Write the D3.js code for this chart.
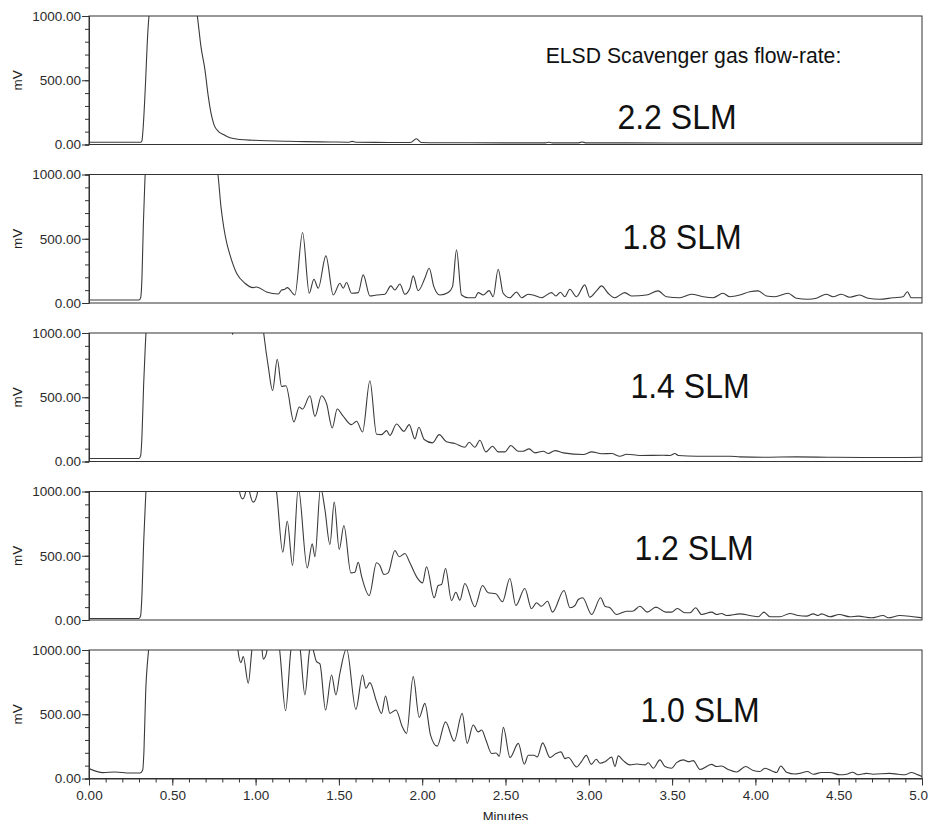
<!DOCTYPE html>
<html>
<head>
<meta charset="utf-8">
<script src="https://cdn.jsdelivr.net/npm/d3@7/dist/d3.min.js"></script>
<style>
  body { margin: 0; background: #fff; }
  svg { display: block; font-family: "Liberation Sans", Arial, sans-serif; }
</style>
</head>
<body>
<svg id="chart" width="928" height="820"></svg>
<script>
// ELSD chromatograms at five scavenger gas flow-rates: [minutes, mV]
const flowRates = ["2.2 SLM", "1.8 SLM", "1.4 SLM", "1.2 SLM", "1.0 SLM"];

const trace22 = [[0,18],[0.312,18],[0.318,30],[0.326,150],[0.34,500],[0.35,800],[0.36,1000],[0.37,1100],
  [0.64,1100],[0.652,982],[0.672,762],[0.696,581],[0.716,374],[0.732,246],[0.75,155],[0.776,103],[0.806,78],
  [0.846,52],[0.906,39],[0.984,33],[1.066,29],[1.2,25],[1.3,22],[1.45,20],[1.56,18],[1.58,24],[1.6,18],
  [1.8,16],[1.93,15],[1.965,45],[1.995,16],[2.1,14],[2.5,13],[2.74,13],[2.76,18],[2.78,13],[2.94,13],
  [2.96,20],[2.98,13],[3.5,12],[4.0,12],[4.5,12],[5,12]];

const trace18 = [[0,23],[0.30,23],[0.31,40],[0.318,200],[0.326,600],[0.334,900],[0.342,1100],
  [0.76,1100],[0.774,1000],[0.792,750],[0.81,580],[0.828,460],[0.846,375],[0.886,232],[0.936,154],[0.986,120],
  [1.006,125],[1.066,86],[1.136,70],[1.156,101],[1.176,107],[1.19,120],[1.236,62],[1.282,549],[1.322,76],
  [1.35,185],[1.376,115],[1.422,367],[1.466,62],[1.506,154],[1.526,115],[1.546,159],[1.576,76],[1.616,81],
  [1.646,219],[1.686,55],[1.726,62],[1.776,68],[1.812,133],[1.836,101],[1.866,148],[1.896,68],[1.926,115],
  [1.946,211],[1.976,96],[2.016,193],[2.042,271],[2.07,127],[2.106,62],[2.156,81],[2.182,127],[2.206,414],
  [2.236,62],[2.276,41],[2.316,41],[2.336,81],[2.366,62],[2.402,96],[2.426,49],[2.456,263],[2.486,76],
  [2.526,41],[2.566,86],[2.596,41],[2.636,68],[2.666,62],[2.716,41],[2.776,81],[2.802,55],[2.83,84],
  [2.856,49],[2.886,107],[2.926,49],[2.976,141],[3.006,45],[3.046,94],[3.076,133],[3.116,76],[3.156,41],
  [3.216,81],[3.256,55],[3.346,62],[3.416,94],[3.466,49],[3.546,41],[3.616,68],[3.686,49],[3.746,41],
  [3.806,76],[3.846,49],[3.906,62],[3.966,88],[4.016,94],[4.066,55],[4.116,49],[4.196,76],[4.246,37],
  [4.316,29],[4.366,37],[4.426,68],[4.466,49],[4.516,68],[4.566,45],[4.626,62],[4.676,37],[4.746,29],
  [4.826,41],[4.886,49],[4.912,88],[4.936,41],[5.0,41]];

const trace14 = [[0,23],[0.30,23],[0.31,45],[0.318,200],[0.328,600],[0.338,900],[0.348,1100],
  [0.85,1100],[0.862,988],[0.874,1100],[1.04,1100],[1.05,984],[1.076,739],[1.102,553],[1.13,796],
  [1.156,584],[1.182,589],[1.23,308],[1.262,424],[1.282,408],[1.326,512],[1.356,351],[1.396,512],
  [1.426,450],[1.46,261],[1.49,408],[1.522,359],[1.576,287],[1.606,313],[1.642,230],[1.686,628],
  [1.726,212],[1.756,209],[1.786,240],[1.806,202],[1.846,292],[1.89,235],[1.922,287],[1.956,176],
  [1.98,266],[2.012,171],[2.062,145],[2.102,209],[2.146,153],[2.196,140],[2.256,111],[2.282,150],
  [2.316,111],[2.346,165],[2.382,75],[2.422,119],[2.456,75],[2.496,75],[2.532,124],[2.576,80],
  [2.606,80],[2.642,98],[2.676,67],[2.727,80],[2.757,62],[2.797,85],[2.847,67],[2.967,54],[3.017,75],
  [3.077,60],[3.137,62],[3.187,41],[3.227,57],[3.307,47],[3.447,49],[3.487,47],[3.517,62],[3.537,47],
  [3.647,41],[3.847,41],[3.907,36],[4.047,33],[4.247,36],[4.447,33],[4.647,31],[4.847,31],[5.0,33]];

const trace12 = [[0,12],[0.30,12],[0.31,35],[0.318,200],[0.328,600],[0.338,900],[0.348,1100],
  [0.895,1100],[0.906,984],[0.922,943],[0.938,984],[0.945,1060],[0.955,1060],[0.966,984],[0.986,917],
  [1.01,984],[1.02,1100],[1.115,1100],[1.127,984],[1.163,528],[1.19,769],[1.222,424],[1.256,1030],
  [1.31,406],[1.34,593],[1.356,492],[1.39,1030],[1.416,860],[1.446,588],[1.472,917],[1.502,549],
  [1.53,735],[1.572,367],[1.596,372],[1.616,450],[1.636,341],[1.682,191],[1.726,445],[1.746,424],
  [1.77,354],[1.796,367],[1.836,541],[1.862,492],[1.896,518],[1.926,445],[1.97,328],[2.002,289],
  [2.026,414],[2.072,173],[2.096,268],[2.116,276],[2.14,401],[2.176,152],[2.202,216],[2.226,154],
  [2.256,284],[2.316,103],[2.362,268],[2.396,212],[2.442,204],[2.482,142],[2.526,323],[2.562,113],
  [2.616,245],[2.656,87],[2.686,134],[2.716,107],[2.752,146],[2.782,61],[2.851,230],[2.887,95],
  [2.917,113],[2.937,160],[2.963,173],[3.017,43],[3.071,173],[3.097,107],[3.127,95],[3.167,43],
  [3.227,68],[3.263,68],[3.307,107],[3.351,61],[3.403,100],[3.463,61],[3.497,61],[3.531,89],[3.577,56],
  [3.607,56],[3.641,95],[3.677,43],[3.737,61],[3.767,43],[3.797,51],[3.827,35],[3.907,48],[3.967,35],
  [4.017,25],[4.051,61],[4.087,25],[4.147,25],[4.207,51],[4.257,35],[4.307,30],[4.347,48],[4.377,35],
  [4.397,48],[4.447,25],[4.503,43],[4.567,25],[4.617,30],[4.697,17],[4.767,35],[4.797,17],[4.867,35],
  [4.947,25],[5.0,17]];

const trace10 = [[0,77],[0.084,46],[0.156,51],[0.246,43],[0.306,43],[0.322,64],[0.33,220],[0.34,663],
  [0.356,976],[0.366,1100],[0.886,1100],[0.896,980],[0.912,902],[0.926,949],[0.956,741],[0.976,980],
  [0.986,1100],[1.03,1100],[1.046,929],[1.066,980],[1.076,1100],[1.135,1100],[1.146,980],[1.18,527],
  [1.21,980],[1.222,1100],[1.26,1100],[1.27,980],[1.296,650],[1.322,980],[1.335,1060],[1.35,980],
  [1.366,910],[1.386,892],[1.42,533],[1.456,806],[1.482,650],[1.506,819],[1.546,1010],[1.602,538],
  [1.642,806],[1.662,702],[1.686,746],[1.726,598],[1.756,507],[1.78,642],[1.806,507],[1.842,533],
  [1.882,398],[1.906,351],[1.946,793],[1.982,476],[2.016,585],[2.05,338],[2.09,252],[2.14,441],
  [2.192,291],[2.24,507],[2.27,273],[2.306,416],[2.336,363],[2.357,377],[2.383,298],[2.417,194],
  [2.443,199],[2.463,173],[2.487,398],[2.527,163],[2.577,273],[2.613,111],[2.637,181],[2.671,181],
  [2.691,168],[2.723,277],[2.767,163],[2.803,194],[2.833,207],[2.857,155],[2.877,163],[2.927,90],
  [2.955,130],[2.985,180],[3.015,110],[3.045,150],[3.067,119],[3.097,131],[3.137,166],[3.157,93],
  [3.177,176],[3.207,139],[3.247,106],[3.287,113],[3.337,106],[3.357,123],[3.387,80],[3.427,145],
  [3.457,93],[3.497,80],[3.527,123],[3.567,145],[3.597,131],[3.627,139],[3.667,70],[3.737,110],
  [3.767,93],[3.797,97],[3.837,70],[3.887,51],[3.941,93],[3.987,62],[4.027,54],[4.057,80],[4.107,54],
  [4.127,47],[4.152,97],[4.187,49],[4.237,35],[4.267,40],[4.312,54],[4.347,33],[4.397,47],[4.447,47],
  [4.507,29],[4.547,33],[4.583,49],[4.617,29],[4.667,40],[4.707,33],[4.807,40],[4.857,33],[4.897,29],
  [4.937,47],[4.967,33],[5.0,16]];

const traces = [trace22, trace18, trace14, trace12, trace10];
const xMajorTicks = [0, 0.5, 1, 1.5, 2, 2.5, 3, 3.5, 4, 4.5, 5];
const yMajorTicks = [0, 500, 1000];
const xLabel = "Minutes";
const yLabel = "mV";
const headerText = "ELSD Scavenger gas flow-rate:";

// ---- layout ----
const plotLeft = 89, plotRight = 922;
const panelTop0 = 16, panelPitch = 158.5, panelH = 128.5;
const rateLabelPos = [[677, 129], [682, 249], [690, 398], [694, 560], [700, 722]];
const tickFont = "13.5px";

const svg = d3.select("#chart");
const x = d3.scaleLinear().domain([0, 5]).range([plotLeft, plotRight]);
const line = d3.line().curve(d3.curveMonotoneX);

traces.forEach((data, i) => {
  const top = panelTop0 + i * panelPitch;
  const bottom = top + panelH;
  const y = d3.scaleLinear().domain([0, 1000]).range([bottom, top]);
  const g = svg.append("g");

  // clip so values above full scale run off the panel
  const clipId = "clip" + i;
  svg.append("clipPath").attr("id", clipId)
    .append("rect").attr("x", plotLeft).attr("y", top)
    .attr("width", plotRight - plotLeft).attr("height", panelH);

  // frame
  g.append("rect").attr("x", plotLeft).attr("y", top)
    .attr("width", plotRight - plotLeft).attr("height", panelH)
    .attr("fill", "none").attr("stroke", "#333").attr("stroke-width", 1);

  // trace
  line.x(d => x(d[0])).y(d => y(d[1]));
  g.append("path").datum(data)
    .attr("clip-path", `url(#${clipId})`)
    .attr("d", line)
    .attr("fill", "none").attr("stroke", "#3a3a3a").attr("stroke-width", 1.1);

  // y axis: minor ticks every 100, labelled major ticks
  g.append("g").attr("transform", `translate(${plotLeft},0)`)
    .call(d3.axisLeft(y).tickValues(d3.range(0, 1001, 100)).tickSize(4).tickFormat(""))
    .call(a => a.select(".domain").attr("stroke", "#333"))
    .call(a => a.selectAll(".tick line").attr("stroke", "#333"));
  g.append("g").attr("transform", `translate(${plotLeft},0)`)
    .call(d3.axisLeft(y).tickValues(yMajorTicks).tickSize(7).tickPadding(1).tickFormat(d3.format(".2f")))
    .call(a => a.select(".domain").remove())
    .call(a => a.selectAll(".tick line").attr("stroke", "#333"))
    .call(a => a.selectAll(".tick text").attr("fill", "#2b2b2b").style("font-size", tickFont)
      .style("font-family", "'Liberation Sans', Arial, sans-serif"));

  g.append("text")
    .attr("transform", `translate(22,${(top + bottom) / 2}) rotate(-90)`)
    .attr("text-anchor", "middle")
    .attr("fill", "#222").style("font-size", "13.5px")
    .text(yLabel);

  // flow-rate label
  const [lx, ly] = rateLabelPos[i];
  g.append("text")
    .attr("transform", `translate(${lx},${ly}) scale(1,1.08)`)
    .attr("text-anchor", "middle")
    .attr("fill", "#111").style("font-size", "32px")
    .text(flowRates[i]);

  if (i === 0) {
    g.append("text").attr("x", 693.5).attr("y", 63)
      .attr("text-anchor", "middle").attr("fill", "#111").style("font-size", "21.2px")
      .text(headerText);
  }

  if (i === traces.length - 1) {
    g.append("g").attr("transform", `translate(0,${bottom})`)
      .call(d3.axisBottom(x).tickValues(d3.range(0, 5.001, 0.1)).tickSize(4).tickFormat(""))
      .call(a => a.select(".domain").attr("stroke", "#333"))
      .call(a => a.selectAll(".tick line").attr("stroke", "#333"));
    g.append("g").attr("transform", `translate(0,${bottom})`)
      .call(d3.axisBottom(x).tickValues(xMajorTicks).tickSize(7).tickPadding(5).tickFormat(d3.format(".2f")))
      .call(a => a.select(".domain").remove())
      .call(a => a.selectAll(".tick line").attr("stroke", "#333"))
      .call(a => a.selectAll(".tick text").attr("fill", "#2b2b2b").style("font-size", tickFont)
        .style("font-family", "'Liberation Sans', Arial, sans-serif"));
    g.append("text").attr("x", (plotLeft + plotRight) / 2).attr("y", 821)
      .attr("text-anchor", "middle").attr("fill", "#222").style("font-size", "13px")
      .text(xLabel);
  }
});
</script>
</body>
</html>
